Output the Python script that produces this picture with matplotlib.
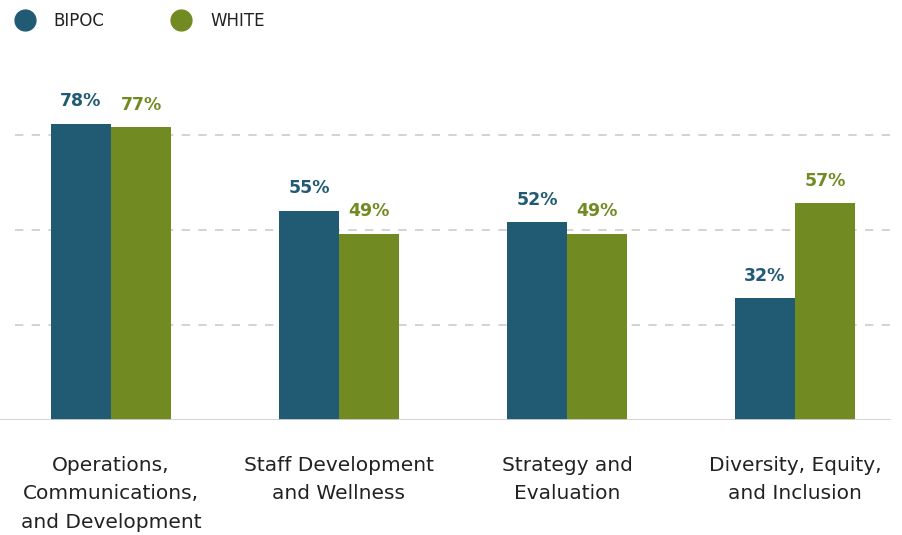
import matplotlib.pyplot as plt
from matplotlib.lines import Line2D

categories = ["Operations,\nCommunications,\nand Development",
              "Staff Development\nand Wellness",
              "Strategy and\nEvaluation",
              "Diversity, Equity,\nand Inclusion"]
bipoc = [78, 55, 52, 32]
white = [77, 49, 49, 57]

c_bipoc = "#215a73"
c_white = "#728a22"

plt.rcParams['font.family'] = ['DejaVu Sans']

fig = plt.figure(figsize=(9.02, 5.35), dpi=100)
ax = fig.add_axes([0, 115 / 535, 891 / 902, 380 / 535])

w = 60 / 228
x = list(range(len(categories)))
ax.bar([i - w / 2 for i in x], bipoc, width=w, color=c_bipoc, zorder=3)
ax.bar([i + w / 2 for i in x], white, width=w, color=c_white, zorder=3)

for i in x:
    ax.annotate(f"{bipoc[i]}%", (i - w / 2, bipoc[i]), xytext=(0, 10),
                textcoords="offset points", ha="center", va="bottom",
                fontsize=12.5, fontweight="bold", color=c_bipoc)
    ax.annotate(f"{white[i]}%", (i + w / 2, white[i]), xytext=(0, 10),
                textcoords="offset points", ha="center", va="bottom",
                fontsize=12.5, fontweight="bold", color=c_white)

ax.set_xlim(-111 / 228, 780 / 228)
ax.set_ylim(0, 100)

# dashed gridlines
for g in [25, 50, 75]:
    ax.axhline(g, xmin=15 / 891, xmax=1, color="#cccccc", lw=1.2,
               dashes=(5, 5), zorder=1)
ax.axhline(0, color="#d0d0d0", lw=2, zorder=4)

for s in ax.spines.values():
    s.set_visible(False)
ax.set_yticks([])
ax.set_xticks(x)
ax.set_xticklabels(categories, fontsize=14.5, color="#222222", linespacing=1.62)
ax.tick_params(axis="x", length=0, pad=26)

handles = [Line2D([], [], marker="o", ls="", color=c_bipoc, markersize=15),
           Line2D([], [], marker="o", ls="", color=c_white, markersize=15)]
fig.legend(handles, ["BIPOC", "WHITE"], loc="center left",
           bbox_to_anchor=(-7 / 902, 1 - 21 / 535), ncol=2, frameon=False,
           fontsize=12, handletextpad=0.75, columnspacing=3.6,
           labelcolor="#222222")

fig.savefig("out.png", dpi=100)
